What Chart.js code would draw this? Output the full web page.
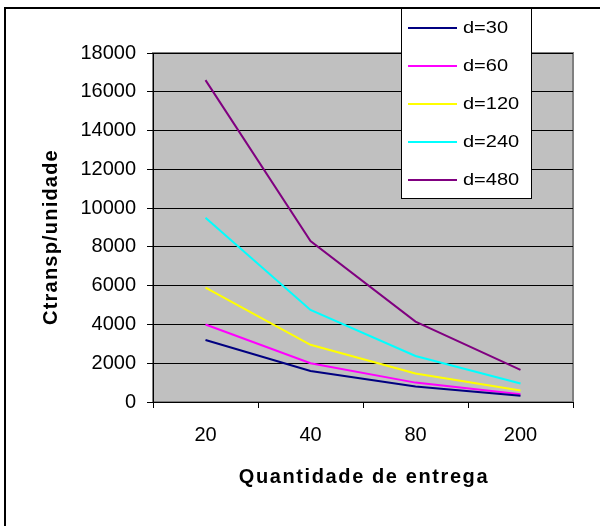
<!DOCTYPE html>
<html>
<head>
<meta charset="utf-8">
<script src="https://cdn.jsdelivr.net/npm/chart.js@4/dist/chart.umd.min.js"></script>
<style>
  html, body { margin: 0; padding: 0; background: #fff; }
  #wrap { width: 600px; height: 526px; }
</style>
</head>
<body>
<div id="wrap"><canvas id="chart" width="600" height="526"></canvas></div>
<script>
// dados
const quantidades = ['20', '40', '80', '200'];
const seriesNames = ['d=30', 'd=60', 'd=120', 'd=240', 'd=480'];
const d30 = [3200, 1600, 800, 320];
const d60 = [4000, 2000, 1000, 400];
const d120 = [5900, 2950, 1475, 590];
const d240 = [9500, 4750, 2375, 950];
const d480 = [16600, 8300, 4150, 1660];
const yTicks = [0, 2000, 4000, 6000, 8000, 10000, 12000, 14000, 16000, 18000];

const colors = ['#000080', '#FF00FF', '#FFFF00', '#00FFFF', '#800080'];
const values = [d30, d60, d120, d240, d480];
const FONT = '"Liberation Sans", Arial, sans-serif';

// fundo cinza da área de plotagem, moldura, títulos e legenda
const plotBg = {
    id: 'plotBg',
    beforeDraw(chart) {
        const {ctx, chartArea: a} = chart;
        ctx.save();
        ctx.fillStyle = '#fff';
        ctx.fillRect(0, 0, chart.width, chart.height);
        ctx.strokeStyle = '#000';
        ctx.lineWidth = 2;
        ctx.strokeRect(5, 8, 700, 700);
        ctx.fillStyle = '#C0C0C0';
        ctx.fillRect(a.left, a.top, a.right - a.left, a.bottom - a.top);
        ctx.strokeStyle = '#808080';
        ctx.lineWidth = 2;
        ctx.strokeRect(a.left, a.top, a.right - a.left, a.bottom - a.top);
        ctx.restore();
    },
    afterDraw(chart) {
        const {ctx, chartArea: a} = chart;
        ctx.save();
        ctx.font = 'bold 20px ' + FONT;
        ctx.fillStyle = '#000';
        ctx.textAlign = 'center';
        ctx.textBaseline = 'middle';
        // título do eixo x
        ctx.letterSpacing = '1.6px';
        ctx.fillText('Quantidade de entrega', (a.left + a.right) / 2 + 1, 477);
        // título do eixo y
        ctx.translate(51, 237);
        ctx.rotate(-Math.PI / 2);
        ctx.letterSpacing = '1.2px';
        ctx.fillText('Ctransp/unidade', 0, 0);
        ctx.restore();

        // legenda
        ctx.save();
        const lx = 401, ly = 8, lw = 130, lh = 190;
        ctx.fillStyle = '#fff';
        ctx.fillRect(lx, ly, lw, lh);
        ctx.strokeStyle = '#000';
        ctx.lineWidth = 1;
        ctx.strokeRect(lx + 0.5, ly + 0.5, lw, lh);
        chart.data.datasets.forEach((ds, i) => {
            const y = 28 + i * 38;
            ctx.strokeStyle = ds.borderColor;
            ctx.lineWidth = 2;
            ctx.beginPath();
            ctx.moveTo(408, y);
            ctx.lineTo(457, y);
            ctx.stroke();
            ctx.save();
            ctx.translate(463, y + 1);
            ctx.scale(1.25, 1);
            ctx.font = '16px ' + FONT;
            ctx.textBaseline = 'middle';
            ctx.fillStyle = '#000';
            ctx.fillText(ds.label, 0, 0);
            ctx.restore();
        });
        ctx.restore();
    }
};

new Chart(document.getElementById('chart'), {
    type: 'line',
    data: {
        labels: quantidades,
        datasets: seriesNames.map((name, i) => ({
            label: name,
            data: values[i],
            borderColor: colors[i],
            backgroundColor: colors[i],
            borderWidth: 2,
            pointRadius: 0,
            tension: 0
        }))
    },
    options: {
        responsive: false,
        animation: false,
        layout: { padding: { top: 53, right: 27, left: 0, bottom: 0 } },
        plugins: { legend: { display: false }, tooltip: { enabled: false } },
        scales: {
            x: {
                offset: true,
                grid: { offset: true, drawOnChartArea: false, color: '#000', tickLength: 6 },
                border: { color: '#000', width: 1 },
                ticks: { color: '#000', font: { family: FONT, size: 20 }, padding: 15 },
                afterFit(scale) { scale.height = 124; }
            },
            y: {
                min: 0,
                max: 18000,
                afterBuildTicks(scale) { scale.ticks = yTicks.map(v => ({ value: v })); },
                grid: { color: '#000', tickLength: 6 },
                border: { color: '#000', width: 1 },
                ticks: {
                    color: '#000',
                    font: { family: FONT, size: 20 },
                    padding: 11,
                    callback: v => String(v)
                },
                afterFit(scale) { scale.width = 153; }
            }
        }
    },
    plugins: [plotBg]
});
</script>
</body>
</html>
